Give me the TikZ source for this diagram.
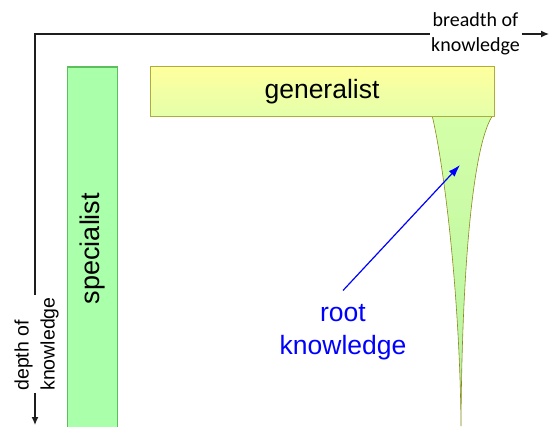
\documentclass[tikz,border=0pt]{standalone}
\usepackage{fontspec}
\setmainfont{Liberation Sans}
\newfontfamily\carlito{Carlito}
\usetikzlibrary{arrows.meta}
\definecolor{axisgray}{HTML}{1E1E1E}
\definecolor{specfill}{HTML}{AAFFAA}
\definecolor{specborder}{HTML}{5CBF5C}
\definecolor{genTop}{HTML}{FFFF9E}
\definecolor{genBot}{HTML}{E4FFAA}
\definecolor{genborder}{HTML}{ADAD3A}
\definecolor{rootTop}{HTML}{D4FFA8}
\definecolor{rootBot}{HTML}{B4F2A0}
\definecolor{rootborder}{HTML}{8A8A1E}
\definecolor{rootblue}{HTML}{0000FF}
\tikzset{
  axisline/.style={draw=axisgray, line width=1.3pt},
  axisarrow/.style={axisline, -{Latex[length=8pt,width=7pt]}},
  breadthlbl/.style={align=center, font=\carlito\fontsize{20}{24.5}\selectfont, inner xsep=1.5pt, inner ysep=0pt},
  depthlbl/.style={align=left, font=\fontsize{19.5}{26}\selectfont, inner xsep=2pt, inner ysep=0pt, rotate=90},
  specbar/.style={draw=specborder, fill=specfill, line width=1.2pt, font=\fontsize{27}{32}\selectfont, inner sep=0pt, rotate=90},
  genbox/.style={draw=genborder, top color=genTop, bottom color=genBot, line width=1pt, font=\fontsize{26.5}{31}\selectfont, inner sep=0pt},
  rootshape/.style={draw=rootborder, line width=0.6pt, top color=rootTop, bottom color=rootBot},
  rootlbl/.style={align=center, text=rootblue, font=\fontsize{26.5}{33}\selectfont, inner xsep=0pt, inner ysep=14pt},
  bluearrow/.style={draw=rootblue, line width=1.2pt, -{Latex[length=12pt,width=8pt]}}
}
\begin{document}
\begin{tikzpicture}[x=1pt,y=-1pt]
\useasboundingbox (0,0) rectangle (551,426);
% specialist bar
\node[specbar, minimum width=363pt, minimum height=49.5pt] (spec) at (92.5,248.5) {specialist};
% root knowledge shape
\path[rootshape] (432,115) .. controls (445,170) and (460,300) .. (461,426)
  .. controls (462,250) and (475,140) .. (493,115) -- cycle;
% generalist box
\node[genbox, minimum width=344pt, minimum height=49.5pt] (gen) at (322,91.5) {generalist};
% axes
\coordinate (corner) at (35,34);
\coordinate (bend) at (549,34);
\coordinate (dend) at (35,425);
\node[breadthlbl] (breadth) at (475.5,34) {breadth of\\knowledge};
\node[depthlbl] (depth) at (36.5,344) {depth of\\knowledge};
\draw[axisline] (breadth.west) -- (corner) -- (depth.east -| corner);
\draw[axisarrow] (depth.west -| corner) -- (dend);
\draw[axisarrow] (breadth.east) -- (bend);
% root label and arrow
\coordinate (tip) at (460,165);
\node[rootlbl] (rootl) at (343,332.5) {root\\knowledge};
\draw[bluearrow] (rootl.north) -- (tip);
\end{tikzpicture}
\end{document}
